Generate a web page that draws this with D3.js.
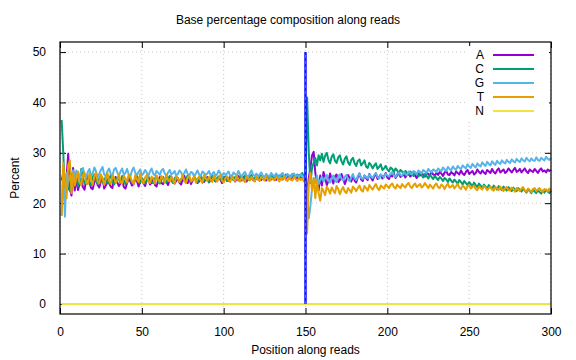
<!DOCTYPE html>
<html>
<head>
<meta charset="utf-8">
<script src="https://cdn.jsdelivr.net/npm/d3@7"></script>
<style>
  body { margin: 0; background: #fff; }
  svg { display: block; font-family: "Liberation Sans", Arial, sans-serif; }
</style>
</head>
<body>
<svg id="chart"></svg>
<script>
// 1. Data: percent of each base per read position 1..300
const baseA = [
  24.5, 26.0, 22.0, 25.0, 29.8, 23.0, 21.5, 27.0, 22.5, 25.0,
  22.6, 23.9, 24.8, 23.2, 22.7, 24.6, 25.3, 24.1, 23.0, 22.8,
  24.2, 25.0, 23.6, 23.1, 24.4, 24.9, 22.9, 23.5, 24.7, 24.0,
  23.3, 23.0, 24.8, 25.2, 24.1, 23.4, 23.9, 24.6, 23.2, 22.9,
  24.0, 24.9, 24.3, 23.5, 23.8, 25.1, 24.4, 23.3, 24.2, 24.8,
  23.9, 23.4, 24.5, 25.0, 23.7, 24.1, 24.9, 23.6, 23.3, 24.6,
  25.2, 24.0, 23.8, 24.7, 24.3, 23.6, 24.5, 25.3, 24.2, 23.9,
  24.4, 25.0, 24.1, 23.7, 24.8, 25.4, 24.3, 24.0, 24.9, 23.8,
  24.5, 25.1, 24.6, 24.0, 24.3, 25.3, 24.8, 24.2, 24.7, 25.2,
  24.1, 24.6, 25.4, 24.9, 24.3, 24.5, 25.2, 24.7, 24.0, 24.8,
  25.3, 24.6, 24.4, 25.0, 25.5, 24.8, 24.3, 24.9, 25.4, 24.7,
  24.5, 25.2, 24.9, 24.3, 24.8, 25.4, 25.0, 24.6, 24.4, 25.1,
  25.5, 24.8, 24.6, 25.2, 24.9, 24.5, 25.3, 25.0, 24.7, 25.4,
  24.9, 24.6, 25.1, 25.5, 24.8, 24.7, 25.3, 24.9, 25.6, 25.0,
  24.7, 25.2, 25.4, 24.9, 25.0, 25.6, 25.1, 24.8, 25.3, 25.0,
  22.0, 25.0, 27.0, 29.5, 30.2, 26.0, 24.0, 22.5, 25.5, 23.5,
  26.2, 25.1, 23.6, 24.4, 25.9, 24.8, 23.9, 25.3, 25.7, 24.2,
  24.6, 25.8, 24.9, 23.8, 24.7, 25.6, 25.0, 24.3, 25.4, 24.5,
  24.1, 25.2, 25.9, 24.7, 24.4, 25.5, 25.0, 24.6, 25.8, 25.1,
  24.5, 25.3, 25.9, 24.8, 25.2, 25.7, 24.9, 25.4, 26.0, 25.1,
  24.8, 25.6, 25.3, 25.9, 25.0, 25.5, 26.1, 25.2, 25.4, 25.8,
  25.1, 25.7, 26.0, 25.3, 25.6, 26.2, 25.4, 25.0, 25.9, 25.5,
  26.1, 25.6, 25.3, 26.0, 25.8, 25.4, 26.3, 25.7, 25.5, 26.0,
  25.6, 26.2, 25.9, 25.4, 26.1, 26.4, 25.7, 25.6, 26.2, 25.9,
  25.5, 26.3, 26.0, 25.7, 26.5, 25.9, 25.6, 26.2, 26.6, 25.8,
  26.1, 26.4, 25.7, 26.0, 26.7, 26.2, 25.9, 26.5, 26.1, 25.8,
  26.6, 26.3, 26.0, 26.8, 26.2, 25.9, 26.5, 26.9, 26.1, 26.4,
  26.7, 26.0, 26.3, 26.9, 26.5, 26.1, 26.6, 27.0, 26.2, 26.4,
  26.8, 26.1, 26.5, 26.9, 26.3, 26.0, 26.7, 26.4, 26.2, 26.8,
  26.4, 26.0, 26.6, 26.9, 26.3, 26.5, 26.1, 26.7, 26.4, 26.6
];

const baseC = [
  36.5, 30.0, 22.0, 24.5, 23.0, 22.5, 25.0, 26.5, 24.0, 25.5,
  23.4, 24.2, 26.8, 25.1, 23.9, 24.6, 25.4, 24.0, 23.6, 25.2,
  25.7, 24.3, 23.8, 24.9, 25.5, 24.1, 24.4, 25.3, 23.9, 24.7,
  25.6, 24.5, 23.7, 24.2, 25.1, 24.8, 24.0, 25.4, 24.6, 23.8,
  24.3, 25.2, 24.9, 24.1, 23.9, 24.7, 25.5, 24.4, 24.0, 25.0,
  24.6, 23.9, 24.5, 25.3, 24.8, 24.2, 24.0, 24.9, 25.4, 24.3,
  23.9, 24.6, 25.2, 24.7, 24.1, 24.8, 25.4, 24.5, 24.0, 24.9,
  25.3, 24.6, 24.2, 24.8, 25.1, 24.4, 24.7, 25.5, 24.9, 24.3,
  24.6, 25.2, 24.8, 24.1, 24.9, 25.4, 24.7, 24.5, 25.1, 24.8,
  24.2, 24.9, 25.5, 24.6, 24.4, 25.0, 25.3, 24.7, 24.5, 25.2,
  24.9, 24.4, 24.8, 25.4, 25.0, 24.6, 25.2, 24.8, 24.5, 25.3,
  25.0, 24.7, 25.5, 24.9, 24.6, 25.1, 25.6, 24.8, 25.0, 25.3,
  24.7, 25.2, 25.5, 24.9, 25.1, 25.7, 24.8, 25.0, 25.4, 25.1,
  24.8, 25.5, 25.2, 24.9, 25.6, 25.3, 25.0, 25.7, 25.2, 24.9,
  25.4, 25.8, 25.1, 25.3, 25.7, 25.0, 25.5, 26.0, 25.2, 25.6,
  41.0, 30.0, 24.0, 27.0, 28.0, 29.0, 27.5, 29.5, 28.5, 29.8,
  28.2, 29.4, 30.0, 28.6, 27.9, 29.2, 29.7, 28.4, 28.0, 29.1,
  29.5, 28.3, 27.7, 28.8, 29.3, 28.1, 27.6, 28.6, 29.0, 27.9,
  27.4, 28.4, 28.7, 27.5, 27.9, 28.5, 27.3, 27.0, 28.0, 27.6,
  26.9, 27.5, 27.9, 26.8, 27.2, 27.7, 26.6, 26.9, 27.4, 26.7,
  26.3, 27.1, 26.8, 26.2, 26.9, 26.5, 25.9, 26.6, 26.3, 25.8,
  26.4, 26.0, 25.6, 26.3, 25.9, 25.4, 26.1, 25.7, 25.3, 25.9,
  25.5, 25.1, 25.8, 25.4, 24.9, 25.6, 25.2, 24.8, 25.4, 25.0,
  24.6, 25.2, 24.9, 24.4, 25.0, 24.7, 24.2, 24.9, 24.5, 24.1,
  24.7, 24.3, 23.9, 24.6, 24.2, 23.7, 24.4, 24.0, 23.6, 24.2,
  23.8, 23.4, 24.1, 23.6, 23.2, 23.9, 23.5, 23.0, 23.7, 23.3,
  22.9, 23.6, 23.2, 22.8, 23.5, 23.1, 22.7, 23.4, 23.0, 22.6,
  23.3, 22.9, 22.5, 23.2, 22.8, 22.4, 23.1, 22.7, 22.4, 23.0,
  22.6, 22.3, 22.9, 22.5, 22.1, 22.8, 22.4, 22.0, 22.7, 22.3,
  22.0, 22.6, 22.2, 21.9, 22.5, 22.1, 22.7, 22.3, 22.0, 22.5
];

const baseG = [
  17.5, 27.0, 17.3, 26.0, 24.0, 25.5, 24.0, 26.5, 24.5, 26.5,
  25.3, 24.8, 26.4, 27.0, 25.6, 25.1, 26.2, 26.8, 25.4, 25.9,
  27.1, 26.3, 25.2, 25.8, 26.6, 27.2, 25.7, 25.3, 26.4, 26.9,
  25.8, 25.4, 26.7, 27.0, 26.1, 25.5, 26.3, 26.9, 25.6, 26.0,
  26.8, 25.7, 25.3, 26.5, 27.1, 26.0, 25.6, 26.2, 26.7, 25.5,
  25.9, 26.6, 26.1, 25.4, 26.3, 26.9, 25.8, 25.5, 26.4, 26.0,
  25.6, 26.5, 26.8, 25.9, 25.4, 26.1, 26.6, 25.7, 25.9, 26.4,
  25.5, 25.8, 26.5, 26.1, 25.4, 26.0, 26.7, 25.8, 25.5, 26.2,
  26.0, 25.3, 25.9, 26.5, 25.7, 25.4, 26.3, 26.0, 25.6, 25.9,
  26.4, 25.5, 25.8, 26.2, 25.4, 25.7, 26.5, 25.9, 25.3, 26.0,
  25.6, 25.9, 26.3, 25.4, 25.2, 26.1, 25.8, 25.5, 26.4, 25.7,
  25.3, 25.8, 26.2, 25.5, 25.1, 25.9, 26.5, 25.6, 25.4, 25.9,
  25.2, 25.7, 26.1, 25.4, 25.0, 25.8, 25.5, 25.2, 26.0, 25.6,
  25.3, 25.9, 25.5, 25.1, 25.7, 26.0, 25.4, 25.2, 25.8, 25.5,
  25.1, 25.7, 25.9, 25.3, 25.6, 25.2, 25.8, 25.4, 25.0, 25.6,
  22.0, 17.0, 19.5, 23.0, 25.0, 24.0, 25.5, 23.8, 24.6, 25.2,
  24.3, 25.0, 25.6, 24.4, 24.1, 24.9, 25.5, 24.6, 24.2, 25.3,
  25.7, 24.8, 24.5, 25.2, 25.6, 24.7, 24.4, 25.1, 25.8, 24.9,
  24.6, 25.4, 25.9, 25.0, 24.8, 25.5, 25.2, 24.9, 25.7, 25.3,
  25.0, 25.6, 26.0, 25.2, 24.9, 25.7, 25.4, 25.1, 25.9, 25.5,
  25.3, 25.9, 26.2, 25.5, 25.2, 25.8, 26.1, 25.6, 25.4, 26.2,
  25.8, 25.5, 26.3, 26.0, 25.7, 26.4, 26.1, 25.8, 26.5, 26.2,
  25.9, 26.6, 26.3, 26.0, 26.8, 26.4, 26.1, 26.7, 26.5, 26.2,
  26.9, 26.6, 26.3, 27.1, 26.7, 26.4, 27.2, 26.8, 26.5, 27.3,
  26.9, 26.6, 27.4, 27.0, 26.8, 27.5, 27.2, 26.9, 27.7, 27.3,
  27.0, 27.8, 27.4, 27.1, 27.9, 27.5, 27.3, 28.1, 27.7, 27.4,
  28.2, 27.8, 27.5, 28.3, 27.9, 27.6, 28.4, 28.0, 27.8, 28.5,
  28.1, 27.9, 28.6, 28.2, 28.0, 28.7, 28.3, 28.1, 28.8, 28.4,
  28.2, 28.9, 28.5, 28.3, 29.0, 28.6, 28.3, 28.9, 28.5, 28.4,
  29.1, 28.6, 28.4, 29.0, 28.7, 28.5, 29.2, 28.8, 28.6, 29.0
];

const baseT = [
  17.5, 28.0, 24.0, 21.0, 27.5, 28.5, 22.0, 26.0, 23.5, 25.0,
  26.3, 24.2, 23.5, 25.6, 26.1, 24.0, 23.8, 25.9, 24.6, 23.7,
  25.4, 26.0, 24.3, 23.9, 25.7, 25.0, 23.6, 24.8, 26.0, 24.4,
  23.8, 25.5, 25.1, 24.0, 24.6, 25.8, 24.2, 23.9, 25.4, 24.9,
  24.1, 25.7, 25.2, 24.3, 23.8, 25.6, 24.7, 24.2, 25.9, 24.5,
  23.9, 25.1, 25.6, 24.4, 24.0, 25.3, 24.8, 23.9, 25.5, 24.7,
  24.2, 25.4, 24.9, 24.0, 25.7, 24.6, 24.3, 25.2, 24.5, 23.9,
  25.3, 25.0, 24.2, 24.7, 25.6, 24.4, 24.0, 25.1, 25.5, 24.3,
  24.6, 25.4, 24.1, 24.8, 25.3, 24.5, 24.0, 25.6, 24.9, 24.4,
  25.2, 24.7, 24.2, 25.5, 24.8, 24.3, 25.0, 25.6, 24.5, 24.1,
  24.9, 25.4, 24.6, 24.2, 25.3, 24.8, 24.4, 25.5, 24.7, 24.3,
  25.1, 24.6, 24.2, 25.4, 24.9, 24.5, 25.2, 24.7, 24.3, 25.3,
  24.8, 24.4, 25.2, 24.9, 24.5, 25.3, 24.7, 24.4, 25.1, 24.8,
  24.5, 25.2, 24.9, 24.3, 25.0, 24.7, 25.3, 24.6, 24.4, 25.1,
  24.7, 24.5, 25.2, 24.8, 24.4, 25.0, 24.6, 24.9, 24.3, 24.8,
  14.0, 24.0, 26.0, 22.5, 25.0, 21.0, 24.5, 22.0, 20.5, 23.0,
  22.4, 21.6, 23.3, 22.7, 21.9, 23.1, 22.5, 22.0, 23.4, 22.8,
  21.8, 22.6, 23.2, 22.3, 22.0, 23.0, 22.6, 22.1, 23.3, 22.9,
  22.4, 23.0, 23.5, 22.6, 22.3, 23.4, 23.0, 22.5, 23.6, 23.1,
  22.7, 23.3, 23.8, 23.0, 22.6, 23.5, 23.2, 22.9, 23.7, 23.4,
  23.0, 23.6, 23.9, 23.2, 22.9, 23.7, 23.3, 23.0, 23.8, 23.4,
  23.1, 23.7, 24.0, 23.3, 23.0, 23.6, 23.9, 23.2, 23.5, 23.8,
  23.1, 23.4, 24.0, 23.5, 23.0, 23.7, 23.3, 22.9, 23.6, 23.9,
  23.2, 23.0, 23.7, 23.4, 22.8, 23.5, 23.9, 23.1, 23.3, 23.6,
  22.9, 23.4, 23.8, 23.1, 22.8, 23.5, 23.2, 22.7, 23.4, 23.6,
  22.9, 23.2, 23.5, 22.8, 22.6, 23.3, 23.0, 22.7, 23.4, 23.1,
  22.6, 23.0, 23.3, 22.7, 22.5, 23.2, 22.9, 22.6, 23.3, 22.8,
  22.4, 23.0, 23.2, 22.6, 22.5, 23.1, 22.8, 22.3, 23.0, 22.7,
  22.4, 22.9, 23.2, 22.5, 22.3, 22.9, 22.6, 22.2, 22.8, 23.0,
  22.4, 22.7, 23.0, 22.5, 22.2, 22.8, 22.6, 22.3, 22.9, 22.5
];

// N stays at 0 along the whole read
const baseN = [[1, 0], [300, 0]];
// vertical marker at the read 1 / read 2 boundary
const boundaryLine = [[150, 0], [150, 50]];

const seriesNames = ["A", "C", "G", "T", "N"];
const seriesColors = ["#9400d3", "#009e73", "#56b4e9", "#e69f00", "#f0e442"];
const xTicks = [0, 50, 100, 150, 200, 250, 300];
const yTicks = [0, 10, 20, 30, 40, 50];

// 2. SVG setup
const W = 576, H = 360;
const margin = { top: 42, right: 25, bottom: 46, left: 60 };
const width = W - margin.left - margin.right;
const height = H - margin.top - margin.bottom;

const svg = d3.select("#chart").attr("width", W).attr("height", H);
const g = svg.append("g").attr("transform", `translate(${margin.left},${margin.top})`);

const x = d3.scaleLinear().domain([0, 300]).range([0, width]);
const y = d3.scaleLinear().domain([-2, 52]).range([height, 0]);

// 3. Grid
g.append("g").selectAll("line").data(yTicks).join("line")
  .attr("x1", 0).attr("x2", width)
  .attr("y1", (d) => y(d)).attr("y2", (d) => y(d))
  .attr("stroke", "#b8b8b8").attr("stroke-width", 0.8).attr("stroke-dasharray", "1,3");
g.append("g").selectAll("line").data(xTicks).join("line")
  .attr("x1", (d) => x(d)).attr("x2", (d) => x(d))
  .attr("y1", 0).attr("y2", height)
  .attr("stroke", "#b8b8b8").attr("stroke-width", 0.8).attr("stroke-dasharray", "1,3");

// 4. Axes (ticks mirrored on all four sides, pointing inward)
const fontSize = "12px";
function styleAxis(sel) {
  sel.select(".domain").remove();
  sel.selectAll(".tick line").attr("stroke", "#000");
  sel.selectAll(".tick text").attr("font-size", fontSize).attr("font-family", "Liberation Sans, Arial, sans-serif").attr("fill", "#000");
}
g.append("g").attr("transform", `translate(0,${height})`)
  .call(d3.axisBottom(x).tickValues(xTicks).tickSize(-6).tickPadding(13))
  .call(styleAxis);
g.append("g")
  .call(d3.axisLeft(y).tickValues(yTicks).tickSize(-6).tickPadding(14))
  .call(styleAxis);
g.append("g")
  .call(d3.axisTop(x).tickValues(xTicks).tickSize(-6).tickFormat(""))
  .call(styleAxis);
g.append("g").attr("transform", `translate(${width},0)`)
  .call(d3.axisRight(y).tickValues(yTicks).tickSize(-6).tickFormat(""))
  .call(styleAxis);

// 5. Lines
const line = d3.line().x((d) => x(d[0])).y((d) => y(d[1]));
const toPoints = (arr) => arr.map((v, i) => [i + 1, v]);
const seriesData = [toPoints(baseA), toPoints(baseC), toPoints(baseG), toPoints(baseT), baseN];

const plot = g.append("g");
seriesData.forEach((pts, i) => {
  plot.append("path")
    .datum(pts)
    .attr("fill", "none")
    .attr("stroke", seriesColors[i])
    .attr("stroke-width", 2)
    .attr("stroke-linejoin", "round")
    .attr("d", line);
});

plot.append("path").datum(boundaryLine)
  .attr("fill", "none").attr("stroke", "#1010ff").attr("stroke-width", 2.5).attr("d", line);
plot.append("path").datum(boundaryLine)
  .attr("fill", "none").attr("stroke", "#7070ff").attr("stroke-width", 0.8)
  .attr("stroke-dasharray", "3,3").attr("d", line);

// 6. Border
g.append("rect").attr("width", width).attr("height", height)
  .attr("fill", "none").attr("stroke", "#000").attr("stroke-width", 1.2);

// 7. Legend
const legend = g.append("g").attr("transform", `translate(${width - 84},4)`);
legend.append("rect").attr("width", 82).attr("height", 76).attr("fill", "#fff");
seriesNames.forEach((name, i) => {
  const ly = 9 + i * 14;
  legend.append("text")
    .attr("x", 17).attr("y", ly).attr("dy", "0.35em")
    .attr("text-anchor", "end").attr("font-size", fontSize)
    .text(name);
  legend.append("line")
    .attr("x1", 26).attr("x2", 67).attr("y1", ly).attr("y2", ly)
    .attr("stroke", seriesColors[i]).attr("stroke-width", 2);
});

// 8. Titles
svg.append("text")
  .attr("x", W / 2).attr("y", 24)
  .attr("text-anchor", "middle").attr("font-size", fontSize)
  .text("Base percentage composition along reads");
svg.append("text")
  .attr("x", margin.left + width / 2).attr("y", 354)
  .attr("text-anchor", "middle").attr("font-size", fontSize)
  .text("Position along reads");
svg.append("text")
  .attr("transform", `translate(19,${margin.top + height / 2}) rotate(-90)`)
  .attr("text-anchor", "middle").attr("font-size", fontSize)
  .text("Percent");
</script>
</body>
</html>
